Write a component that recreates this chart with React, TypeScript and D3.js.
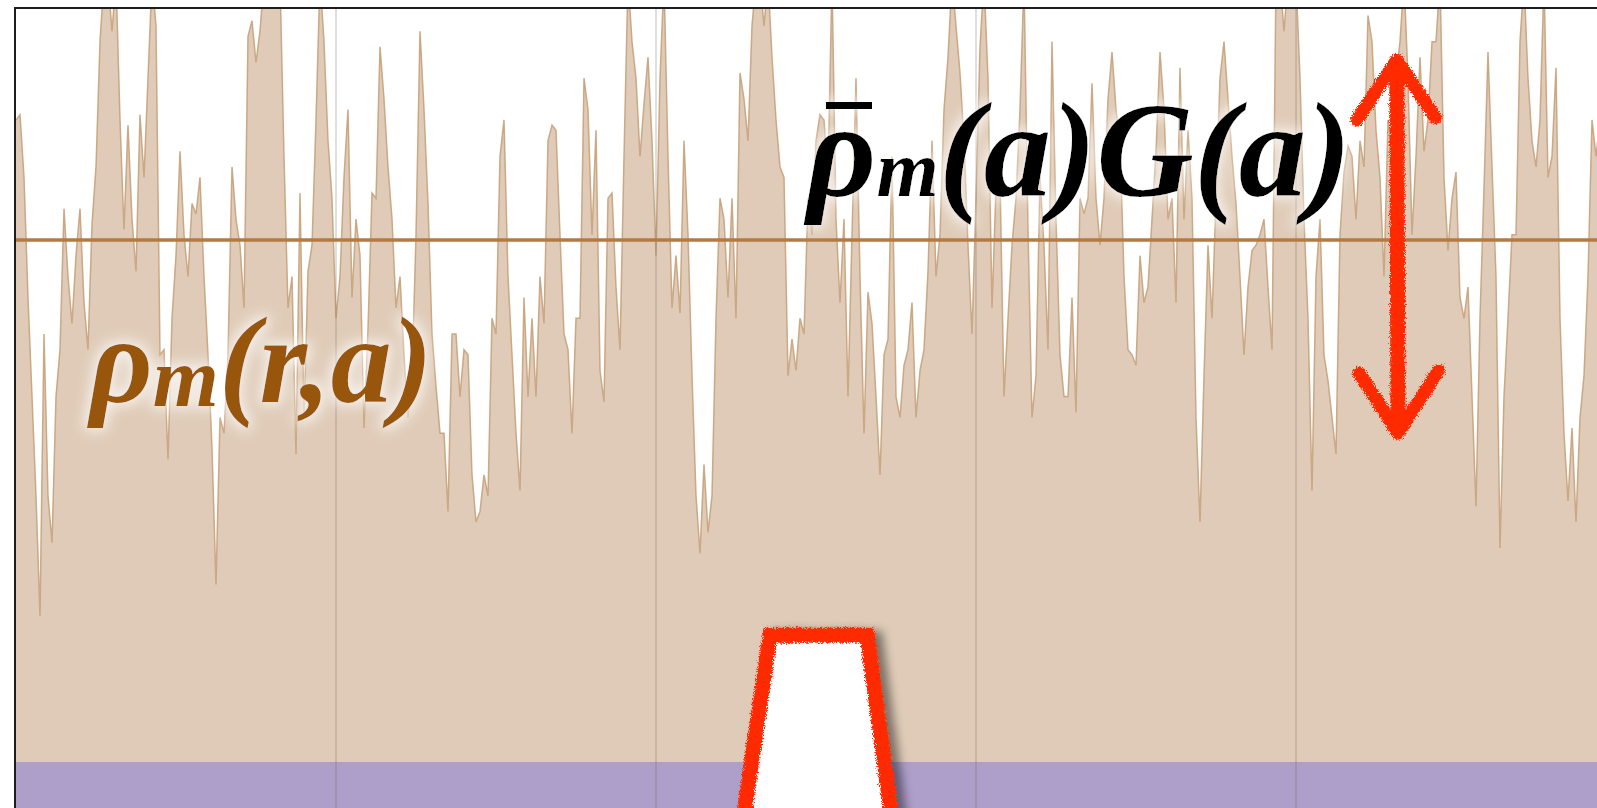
import React from "react";
import * as d3 from "d3";

const WIDTH = 1597;
const HEIGHT = 808;

// Matter density along one line of sight, in percent of the cosmic mean,
// sampled on a uniform comoving grid.
const rhoM: number[] = [
  123, 124, 112, 89, 70, 51, 28, 82, 51, 42, 70, 79, 106, 93, 84, 97, 106, 88, 79, 103,
  114, 138, 150, 150, 140, 150, 123, 102, 122, 104, 94, 124, 112, 131, 150, 141, 78, 79, 58, 85,
  97, 117, 101, 93, 107, 105, 112, 93, 78, 60, 34, 66, 63, 78, 114, 104, 99, 87, 139, 142,
  134, 140, 150, 150, 150, 148, 150, 116, 87, 93, 59, 109, 66, 94, 99, 123, 150, 138, 119, 108,
  85, 93, 112, 125, 89, 104, 97, 64, 83, 109, 108, 137, 127, 114, 104, 87, 93, 78, 66, 74,
  101, 140, 125, 107, 82, 72, 63, 63, 48, 82, 82, 70, 79, 78, 55, 46, 48, 55, 51, 85,
  82, 116, 123, 93, 78, 63, 52, 89, 70, 85, 70, 93, 84, 119, 122, 121, 101, 82, 79, 63,
  85, 85, 131, 125, 101, 121, 75, 69, 108, 109, 91, 79, 116, 150, 138, 131, 116, 126, 135, 119,
  97, 131, 150, 116, 87, 97, 86, 119, 101, 74, 51, 40, 57, 44, 51, 85, 108, 104, 89, 108,
  85, 132, 127, 119, 141, 150, 150, 141, 150, 135, 123, 114, 112, 74, 81, 75, 85, 82, 108, 101,
  119, 124, 123, 112, 150, 104, 88, 104, 70, 101, 131, 93, 63, 90, 84, 70, 55, 78, 81, 116,
  70, 66, 76, 79, 88, 66, 75, 79, 94, 119, 93, 101, 125, 135, 150, 141, 132, 119, 99, 82,
  108, 137, 150, 131, 87, 110, 112, 70, 85, 99, 108, 125, 150, 102, 66, 74, 112, 99, 79, 138,
  104, 78, 70, 70, 89, 67, 108, 105, 108, 130, 108, 99, 108, 127, 136, 125, 119, 93, 79, 78,
  76, 97, 88, 91, 104, 117, 136, 125, 104, 108, 88, 133, 104, 121, 108, 66, 46, 74, 99, 85,
  108, 131, 138, 127, 116, 107, 93, 78, 91, 98, 99, 101, 104, 91, 79, 150, 150, 140, 150, 150,
  150, 131, 104, 85, 52, 93, 104, 78, 73, 66, 59, 101, 113, 118, 116, 104, 119, 114, 143, 138,
  121, 112, 93, 123, 117, 131, 138, 150, 131, 101, 116, 135, 117, 123, 138, 138, 150, 112, 98, 108,
  113, 89, 85, 91, 70, 49, 85, 110, 136, 114, 93, 41, 70, 85, 101, 101, 138, 150, 131, 119,
  114, 123, 150, 112, 116, 133, 85, 63, 50, 64, 46, 66, 74, 93, 123, 116, 123,
];

// Mean density times the growth factor, same units
const meanLevel = 100;
// Bottom of the density axis and top of the background band
const floorLevel = -10;
const bandTop = 0;

// Vertical grid every 80 samples
const gridSamples = [80, 160, 240, 320];

// Hand-drawn annotations, given in sample / density units
const arrowShaft: [number, number][] = [
  [345.2, 132],
  [345.5, 64],
];
const arrowHeadTop: [number, number][] = [
  [335.2, 123],
  [345.2, 134.5],
  [354.8, 123.5],
];
const arrowHeadBottom: [number, number][] = [
  [335.8, 74.5],
  [345.5, 63],
  [355.6, 75],
];
const windowOutline: [number, number][] = [
  [181.8, -11],
  [188.5, 24.3],
  [212.8, 24.3],
  [219, -11],
];

const labelFont: React.CSSProperties = {
  fontFamily: '"Liberation Serif", "DejaVu Serif", serif',
  fontWeight: 700,
  fontStyle: "italic",
};

export default function App() {
  const x = d3
    .scaleLinear()
    .domain([0, rhoM.length - 2])
    .range([16, 16 + 4 * (rhoM.length - 2)]);
  const y = d3.scaleLinear().domain([0, meanLevel]).range([762, 240]);

  const area = d3
    .area<number>()
    .x((_, i) => x(i))
    .y0(y(floorLevel))
    .y1((d) => y(d));
  const line = d3
    .line<number>()
    .x((_, i) => x(i))
    .y((d) => y(d));
  const pen = d3
    .line<[number, number]>()
    .x((d) => x(d[0]))
    .y((d) => y(d[1]));

  return (
    <svg
      width={WIDTH}
      height={HEIGHT}
      style={{ position: "absolute", left: 0, top: 0, background: "#fff" }}
    >
      <defs>
        <clipPath id="plot">
          <rect x={16} y={9} width={WIDTH - 16} height={HEIGHT - 9} />
        </clipPath>
        <filter id="rough" x="-10%" y="-10%" width="120%" height="120%">
          <feTurbulence type="fractalNoise" baseFrequency="1.1" numOctaves="3" seed="7" result="noise" />
          <feDisplacementMap in="SourceGraphic" in2="noise" scale="7" xChannelSelector="R" yChannelSelector="G" />
        </filter>
        <filter id="shadow" x="-20%" y="-20%" width="150%" height="150%">
          <feTurbulence type="fractalNoise" baseFrequency="1.1" numOctaves="3" seed="7" result="noise" />
          <feDisplacementMap in="SourceGraphic" in2="noise" scale="7" xChannelSelector="R" yChannelSelector="G" result="rough" />
          <feDropShadow in="rough" dx="8" dy="3" stdDeviation="5" floodColor="#000" floodOpacity="0.45" />
        </filter>
        <filter id="halo" x="-20%" y="-40%" width="140%" height="180%">
          <feMorphology in="SourceAlpha" operator="dilate" radius="3" result="fat" />
          <feGaussianBlur in="fat" stdDeviation="7" result="blur" />
          <feFlood floodColor="#ffffff" floodOpacity="0.75" />
          <feComposite in2="blur" operator="in" result="glow" />
          <feMerge>
            <feMergeNode in="glow" />
            <feMergeNode in="SourceGraphic" />
          </feMerge>
        </filter>
      </defs>

      <g clipPath="url(#plot)">
        <path d={area(rhoM) ?? ""} fill="#dfcbb7" />
        <path d={line(rhoM) ?? ""} fill="none" stroke="#c6a27c" strokeWidth={1.5} strokeOpacity={0.9} />
        <rect
          x={16}
          y={y(bandTop)}
          width={WIDTH - 16}
          height={y(floorLevel) - y(bandTop)}
          fill="#ae9fca"
        />
        {gridSamples.map((s) => (
          <line
            key={s}
            x1={x(s)}
            x2={x(s)}
            y1={9}
            y2={HEIGHT}
            stroke="#6e645a"
            strokeOpacity={0.28}
            strokeWidth={1.5}
          />
        ))}
        <line
          x1={16}
          x2={WIDTH}
          y1={y(meanLevel)}
          y2={y(meanLevel)}
          stroke="#b37a42"
          strokeWidth={3.5}
        />
      </g>

      {/* frame */}
      <line x1={15} x2={WIDTH} y1={8} y2={8} stroke="#1d1d1d" strokeWidth={2} />
      <line x1={15} x2={15} y1={7} y2={HEIGHT} stroke="#1d1d1d" strokeWidth={2} />

      {/* observation window */}
      <g filter="url(#shadow)">
        <path
          d={pen(windowOutline) ?? ""}
          fill="#ffffff"
          stroke="#ff2a00"
          strokeWidth={15}
          strokeLinejoin="miter"
        />
      </g>

      {/* fluctuation arrow */}
      <g filter="url(#rough)" stroke="#ff2a00" fill="none" strokeLinecap="round" strokeLinejoin="round">
        <path d={pen(arrowShaft) ?? ""} strokeWidth={15} />
        <path d={pen(arrowHeadTop) ?? ""} strokeWidth={13} />
        <path d={pen(arrowHeadBottom) ?? ""} strokeWidth={13} />
      </g>

      {/* labels */}
      <g filter="url(#halo)">
        <text x={90} y={402} style={{ ...labelFont, fontSize: 122 }} fill="#98570c">
          <tspan>ρ</tspan>
          <tspan style={{ fontSize: 85 }} dy={4}>m</tspan>
          <tspan dy={-4}>(r,a)</tspan>
        </text>
      </g>
      <g filter="url(#halo)">
        <rect x={826} y={102} width={46} height={7} fill="#000" />
        <text x={807} y={196} style={{ ...labelFont, fontSize: 135 }} fill="#000">
          <tspan>ρ</tspan>
          <tspan style={{ fontSize: 80 }}>m</tspan>
          <tspan>(a)G(a)</tspan>
        </text>
      </g>
    </svg>
  );
}
